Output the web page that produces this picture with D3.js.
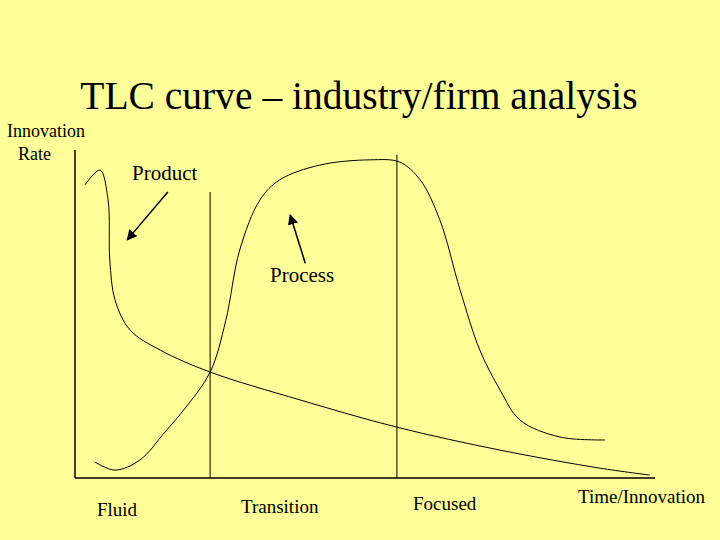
<!DOCTYPE html>
<html><head><meta charset="utf-8">
<script src="https://cdn.jsdelivr.net/npm/d3@7"></script>
<style>body{margin:0;background:#ffff99;}svg{display:block;}</style>
</head><body>
<svg id="c" width="720" height="540"></svg>
<script>
const productX = [1.7,4.3,5.7,6.0,6.9,9.5,14.7,23.3,38.8,55.5,73.3,90.5,99.1];
const productY = [89.3,93.9,84.8,66.5,54.3,45.1,39.0,32.3,23.8,15.5,8.5,3.0,0.9];
const processX = [3.4,6.9,11.2,15.5,19.0,23.3,26.0,28.4,31.9,35.3,42.2,50.9,56.0,59.5,62.9,66.4,69.8,73.3,76.7,83.6,91.4];
const processY = [4.9,2.4,5.5,14.0,21.3,32.3,48.0,69.5,84.8,90.9,95.4,97.0,96.3,90.9,78.7,57.3,39.0,26.8,17.7,12.5,11.6];
const dividerX = [23.3, 55.5];
const dividerTop = [87.2, 98.5];
const phaseLabels = ["Fluid","Transition","Focused"];

const svg = d3.select("#c");
svg.append("rect").attr("width",720).attr("height",540).attr("fill","#ffff99");
const x = d3.scaleLinear().domain([0,100]).range([75,655]);
const y = d3.scaleLinear().domain([0,100]).range([478,150]);
const font = "'Liberation Serif','Times New Roman',serif";

svg.append("defs").append("marker").attr("id","ah").attr("viewBox","0 0 10 10")
 .attr("refX",9).attr("refY",5).attr("markerWidth",7).attr("markerHeight",7).attr("orient","auto")
 .append("path").attr("d","M0,0L10,5L0,10z").attr("fill","#000");

svg.append("text").attr("x",359).attr("y",109).attr("text-anchor","middle")
 .attr("font-family",font).attr("font-size",39.5).text("TLC curve – industry/firm analysis");

svg.append("line").attr("x1",x(0)).attr("x2",x(0)).attr("y1",y(100)).attr("y2",y(0)).attr("stroke","#000").attr("stroke-width",1.5);
svg.append("line").attr("x1",x(0)).attr("x2",x(100)).attr("y1",y(0)).attr("y2",y(0)).attr("stroke","#000").attr("stroke-width",1.5);
dividerX.forEach((d,i)=>svg.append("line").attr("x1",x(d)).attr("x2",x(d)).attr("y1",y(dividerTop[i])).attr("y2",y(0)).attr("stroke","#000"));

const line = d3.line().x(d=>x(d[0])).y(d=>y(d[1])).curve(d3.curveCatmullRom.alpha(0.5));
svg.append("path").attr("d",line(d3.zip(productX,productY))).attr("fill","none").attr("stroke","#000");
svg.append("path").attr("d",line(d3.zip(processX,processY))).attr("fill","none").attr("stroke","#000");

svg.append("line").attr("x1",x(16)).attr("y1",y(87.2)).attr("x2",x(9)).attr("y2",y(72.6)).attr("stroke","#000").attr("stroke-width",1.5).attr("marker-end","url(#ah)");
svg.append("line").attr("x1",x(39.7)).attr("y1",y(65.5)).attr("x2",x(37.1)).attr("y2",y(80.2)).attr("stroke","#000").attr("stroke-width",1.5).attr("marker-end","url(#ah)");

const t=(tx,ty,s,txt)=>svg.append("text").attr("x",tx).attr("y",ty).attr("font-family",font).attr("font-size",s).text(txt);
t(7,137,18,"Innovation"); t(18,160,18,"Rate");
t(132,180,21,"Product"); t(270,282,21,"Process");
[97,241,413].forEach((px,i)=>t(px,[516,513,510][i],19,phaseLabels[i]));
t(578,503,19,"Time/Innovation");
</script>
</body></html>
